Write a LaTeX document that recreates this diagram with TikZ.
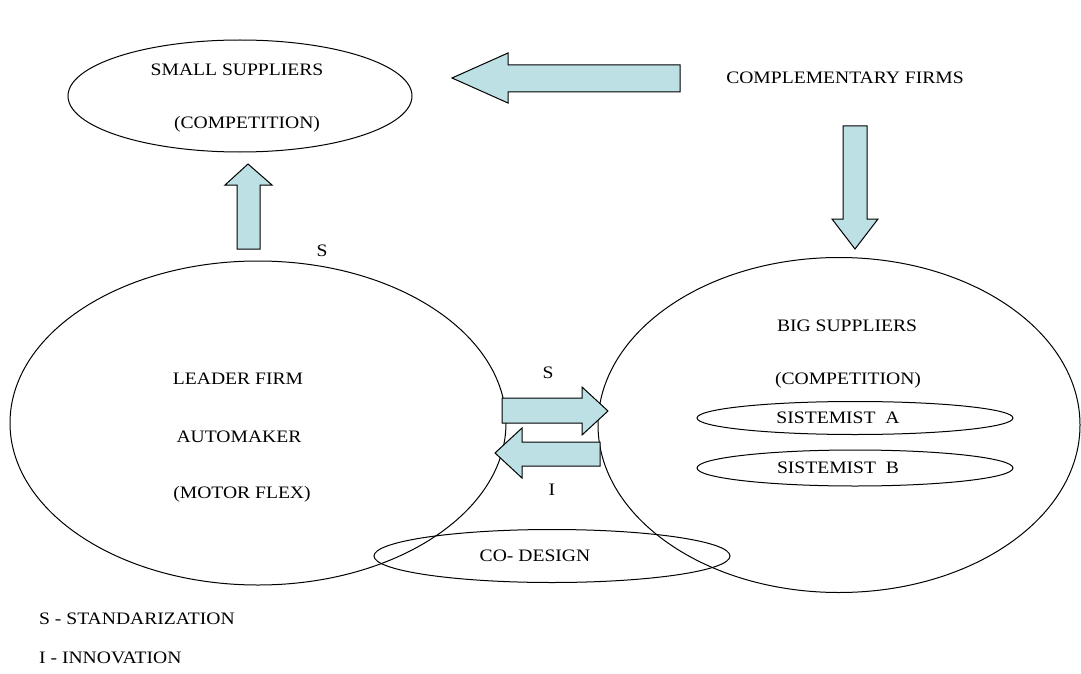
\documentclass[tikz,border=0pt]{standalone}
\usepackage{fontspec}
\setmainfont[FakeStretch=1.12]{Liberation Serif}
\usetikzlibrary{shapes.geometric}
\definecolor{arrowfill}{RGB}{188,224,228}
\tikzset{
  oval/.style={draw, line width=1pt, ellipse, inner sep=0pt},
  blockarrow/.style={draw, line width=1pt, fill=arrowfill, line join=miter},
  lbl/.style={font=\fontsize{17.5}{20}\selectfont, inner sep=0pt}
}
\begin{document}
\begin{tikzpicture}[x=1pt, y=-1pt]
            \useasboundingbox (0,0) rectangle (1081,674);

            \node[oval, minimum width=344, minimum height=112] (small) at (240,96) {};
            \node[oval, minimum width=496, minimum height=324] (leader) at (258,423) {};
            \node[oval, minimum width=482, minimum height=335] (big) at (839,425) {};
            \node[oval, minimum width=316, minimum height=33] (sysa) at (855,418) {};
            \node[oval, minimum width=316, minimum height=36] (sysb) at (855,468) {};
            \node[oval, minimum width=356, minimum height=53] (codesign) at (552,556) {};

            \node[lbl] (smalltxt) at (237,70) {SMALL SUPPLIERS};
            \node[lbl] (smallcomp) at (247,124) {(COMPETITION)};
            \node[lbl] (compl) at (845,78) {COMPLEMENTARY FIRMS};
            \node[lbl] (sup) at (322,251) {S};
            \node[lbl] (leadtxt) at (238,379) {LEADER FIRM};
            \node[lbl] (auto) at (239,437) {AUTOMAKER};
            \node[lbl] (motor) at (242,494) {(MOTOR FLEX)};
            \node[lbl] (smid) at (548,373) {S};
            \node[lbl] (imid) at (552,490) {I};
            \node[lbl] (bigtxt) at (847,326) {BIG SUPPLIERS};
            \node[lbl] (bigcomp) at (848,380) {(COMPETITION)};
            \node[lbl] (sysatxt) at (838,418) {SISTEMIST\ \ A};
            \node[lbl] (sysbtxt) at (838,468) {SISTEMIST\ \ B};
            \node[lbl] (codtxt) at (535,556) {CO- DESIGN};
            \node[lbl, anchor=west] (legs) at (39,619) {S - STANDARIZATION};
            \node[lbl, anchor=west] (legi) at (39,658) {I - INNOVATION};

            % block arrows
            \draw[blockarrow] (680,65) -- (508,65) -- (508,53) -- (452,78) -- (508,103) -- (508,92) -- (680,92) -- cycle;
            \draw[blockarrow] (843,126) -- (843,219) -- (832,219) -- (855,249) -- (878,219) -- (867,219) -- (867,126) -- cycle;
            \draw[blockarrow] (237,249) -- (237,185) -- (225,185) -- (248,164) -- (272,185) -- (260,185) -- (260,249) -- cycle;
            \draw[blockarrow] (502,398) -- (582,398) -- (582,387) -- (608,411) -- (582,435) -- (582,423) -- (502,423) -- cycle;
            \draw[blockarrow] (600,442) -- (522,442) -- (522,428) -- (495,453) -- (522,478) -- (522,466) -- (600,466) -- cycle;
        \end{tikzpicture}
\end{document}
